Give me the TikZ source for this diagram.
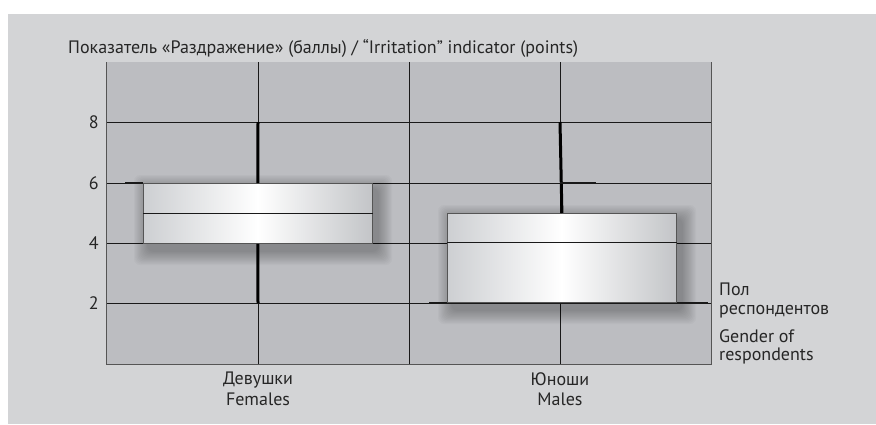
\documentclass[tikz,border=0pt]{standalone}
\usepackage{fontspec}
\setmainfont{PT Sans}
\definecolor{outerbg}{HTML}{D3D4D6}
\definecolor{plotbg}{HTML}{BCBDC1}
\definecolor{boxedge}{HTML}{CDCFD2}
\definecolor{frame}{HTML}{555555}
\tikzset{
  grid line/.style={draw=black!90, line width=0.9pt},
  frame line/.style={draw=frame, line width=0.9pt},
  whisker/.style={draw=black, line width=3pt},
  capline/.style={draw=black!90, line width=1.8pt},
  boxfill/.style={left color=boxedge, right color=boxedge!95!black, middle color=white,
     draw=frame, line width=0.8pt},
  median/.style={draw=black!90, line width=0.9pt},
  lbl/.style={inner sep=0pt, font=\fontsize{18}{18.5}\selectfont, text=black!85},
  catlbl/.style={lbl, font=\fontsize{18}{20.5}\selectfont, align=center, anchor=north},
  softshadow/.style={fill=black, fill opacity=0.022, rounded corners=6pt},
}
% soft shadow: #1,#2 top-left, #3,#4 bottom-right
\newcommand{\mysoftshadow}[4]{%
  \foreach \e in {0,1.2,...,14} {
    \fill[softshadow] (#1+5-14+\e,#2+6-14+\e) rectangle (#3+6+14-\e,#4+8+14-\e);
  }%
}
\begin{document}
\begin{tikzpicture}[x=1pt,y=-1pt]
\useasboundingbox (0,0) rectangle (876,424);
\fill[outerbg] (8,14) rectangle (876,424);
\fill[plotbg] (106.5,62) rectangle (711.5,364);
% grid
\foreach \yy in {122,183,243,303.5} \draw[grid line] (106.5,\yy) -- (711.5,\yy);
\foreach \xx in {258,409,560} \draw[grid line,line width=0.8pt] (\xx,62) -- (\xx,364);
% shadows
\begin{scope}
\clip (106.5,62) rectangle (711.5,364);
\mysoftshadow{143}{183}{372}{243}
\mysoftshadow{447}{213}{676}{302}
\end{scope}
\draw[frame line] (106.5,62) -- (106.5,364) -- (711.5,364) -- (711.5,62);
% Females
\coordinate (fwt) at (258,122);
\coordinate (fwb) at (258,303);
\coordinate (fc1) at (125,183);
\node[boxfill, minimum width=229pt, minimum height=60pt, inner sep=0pt, anchor=north west] (fbox) at (143,183) {};
\draw[whisker] (fwt) -- (fbox.north);
\draw[whisker] (fbox.south) -- (fwb);
\draw[capline] (fc1) -- (fbox.north west);
\draw[median] (fbox.west) -- (fbox.east);
% Males
\coordinate (mwt) at (560,122);
\coordinate (mc1) at (560,183);
\coordinate (mc2) at (596,183);
\coordinate (mb1) at (429,303);
\coordinate (mb2) at (708,303);
\draw[capline] (mb1) -- (mb2);
\node[boxfill, minimum width=229pt, minimum height=89pt, inner sep=0pt, anchor=north west] (mbox) at (447,213) {};
\draw[whisker] (mwt) -- (mbox.north);
\draw[capline] (mc1) -- (mc2);
\draw[median] ([yshift=-29.5pt]mbox.north west) -- ([yshift=-29.5pt]mbox.north east);
% labels
\node[lbl, anchor=west] (title) at (68,48) {Показатель «Раздражение» (баллы) / “Irritation” indicator (points)};
\node[lbl, anchor=east] (t8) at (99,122) {8};
\node[lbl, anchor=east] (t6) at (99,183) {6};
\node[lbl, anchor=east] (t4) at (99,243) {4};
\node[lbl, anchor=east] (t2) at (99,303) {2};
\node[lbl, anchor=north west, align=left] (gru) at (719,283) {Пол\\респондентов};
\node[lbl, anchor=north west, align=left] (gen) at (719,329) {Gender of\\respondents};
\node[catlbl] (fem) at (258,372) {Девушки\\Females};
\node[catlbl] (mal) at (560,372) {Юноши\\Males};
\end{tikzpicture}
\end{document}
